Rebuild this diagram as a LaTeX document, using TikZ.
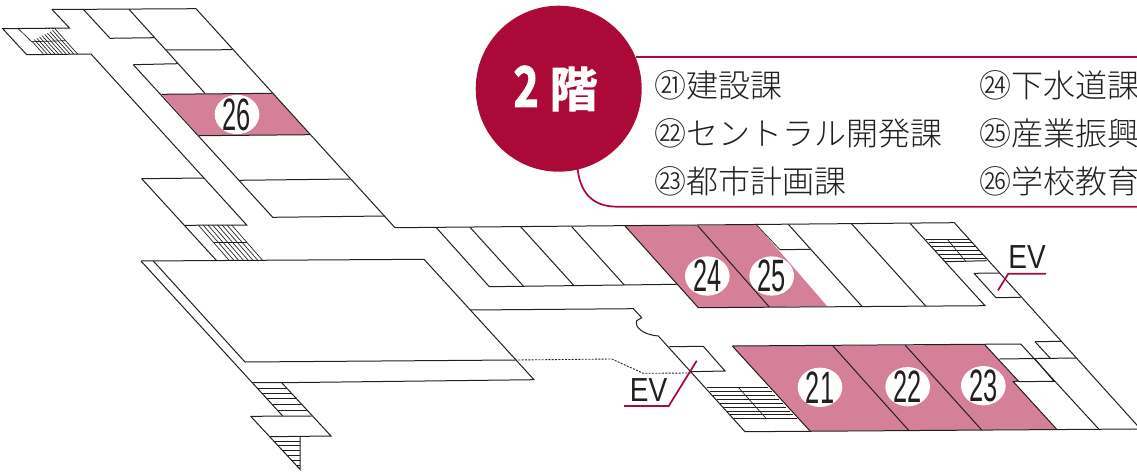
\documentclass[tikz,border=0pt]{standalone}
\usepackage{fontspec}
\newfontfamily\cjk{Noto Sans CJK JP Light}
\newfontfamily\heavy[FakeBold=2]{Noto Sans CJK JP Bold}
\newfontfamily\heavytwo[FakeBold=2,FakeStretch=0.76]{Noto Sans CJK JP Bold}
\newfontfamily\numfont[FakeStretch=0.56]{Liberation Sans}
\newfontfamily\evfont[FakeStretch=0.84]{Liberation Sans}
\definecolor{crim}{HTML}{AB0A38}
\definecolor{rosa}{HTML}{D38098}
\definecolor{ink}{HTML}{231F20}
\usetikzlibrary{shapes.geometric}
\tikzset{
  wall/.style={draw=ink,line width=0.75pt,line join=miter},
  thin/.style={draw=ink,line width=0.5pt},
  room/.style={fill=rosa,draw=none},
  redl/.style={draw=crim,line width=1.3pt},
  oval/.style={ellipse,fill=white,draw=none,minimum width=33.5pt,minimum height=29.5pt,inner sep=0pt},
  num/.style={inner sep=0pt,text=ink,font=\numfont\fontsize{34}{34}\selectfont},
  lbl/.style={anchor=west,inner sep=0pt,text=ink,font=\cjk\fontsize{24}{26}\selectfont},
  evl/.style={inner sep=0pt,text=ink,font=\evfont\fontsize{25}{25}\selectfont}
}
\begin{document}
\begin{tikzpicture}[x=0.75pt,y=-0.75pt]
\useasboundingbox (0,0) rectangle (1137,471);
\clip (0,0) rectangle (1137,471);
% pink rooms
\path[room] (161.7,94.3) -- (272.7,93.3) -- (310,134.7) -- (199,135.7) -- cycle;
\path[room] (625,226) -- (756.7,225) -- (827.3,306.3) -- (698.3,307.7) -- cycle;
\path[room] (732.3,346) -- (985,345) -- (1018.3,381) -- (1013.3,381.7) -- (1056.7,429.3) -- (810,431) -- cycle;
% number ovals under the walls
\node[oval] (o26) at (237,114.5) {};
\node[oval] (o24) at (707.3,276) {};
\node[oval] (o25) at (771.7,276) {};
\node[oval] (o21) at (820,387.3) {};
\node[oval] (o22) at (907.7,386.7) {};
\node[oval] (o23) at (983.3,385.7) {};
% top-left wing
\draw[wall] (52,9.5) -- (196,8.7) -- (395,227.7) -- (954.3,222.7) -- (1145,434);
\draw[wall] (52,9.5) -- (69.5,28) -- (2.7,28.7) -- (26.7,54.7) -- (91,54) -- (246.7,225) -- (185,225.3);
\draw[wall] (83.3,9.3) -- (110,38.3) -- (154,37.7);
\draw[wall] (129,9.3) -- (205,93.3);
\draw[wall] (165.7,50) -- (232.3,49.7);
\draw[wall] (133.3,64.7) -- (177.7,63.7);
\draw[wall] (133.3,64.7) -- (272.7,217.3) -- (385,216);
\draw[wall] (161.7,94.3) -- (272.7,93.3);
\draw[wall] (199,135.7) -- (310,134.7);
\draw[wall] (239.3,180.3) -- (350,179);
\draw[wall] (141.7,178.7) -- (204,178);
\draw[wall] (141.7,178.7) -- (216.7,260.7);
% stairs top-left
\draw[thin,dash pattern=on 1.5pt off 1pt] (18.3,28.7) -- (55,28.7);
\draw[thin] (18.3,28.7) -- (31.7,41.7) -- (65,40.7);
\foreach \a in {0,...,9}{\draw[thin] ({31.7+\a*2.6},{41-\a*1.33}) -- ({43.4+\a*3.8},54);}
% stairs mid-left
\foreach \a in {0,...,7}{\draw[thin] ({198.3+\a*4.77},225) -- ({229.3+\a*4.77},260.5);}
\draw[wall] (214,242.7) -- (246.7,242.7);
% big room
\draw[wall] (141,261) -- (424,259.3) -- (534,379.7) -- (281.7,382.7);
\draw[wall] (153.3,261) -- (245,362) -- (515,360);
\draw[wall] (141,261) -- (282.7,416);
\draw[wall] (252.7,382.7) -- (281.7,382.7) -- (331,436) -- (270,436.7);
\draw[wall] (250.7,416.3) -- (311.7,416);
\draw[wall] (250.7,416.3) -- (300,469.3) -- (300,436.7);
\foreach \y in {388,393,398,404,410}{\draw[thin] ({252.7+(\y-382.7)*0.9},\y) -- ({281.7+(\y-382.7)*0.925},\y);}
\foreach \y in {441,445,450,455,460,465}{\draw[thin] ({270+(\y-436.7)*0.92},\y) -- (300,\y);}
% corridor block
\draw[wall] (470,310) -- (633.3,308.7) -- (641.7,317.7) -- (636.7,320.7) .. controls (634,328) and (645,335) .. (658.3,336) -- (745,431.7) -- (1137,429);
\draw[wall] (669.3,346.7) -- (703.3,346.3) -- (725,371) -- (691,371.7);
\draw[draw=ink,line width=0.65pt,dash pattern=on 1.5pt off 1pt] (515,360) -- (611.7,359) -- (643.3,373.3) -- (691,373);
% upper rooms
\draw[wall] (436,227.3) -- (489.3,286.7) -- (676.7,284.3);
\draw[wall] (470,227.3) -- (523.3,286);
\draw[wall] (520.7,226.7) -- (574,285.7);
\draw[wall] (571.7,226.7) -- (624.3,285);
\draw[wall] (625,226) -- (698.3,307.7) -- (985,305.7) -- (910,223.3);
\draw[wall] (697.7,225.7) -- (769.3,307);
\draw[wall] (788.3,224.3) -- (862.3,306.7);
\draw[wall] (851.7,224) -- (925.7,306);
\draw[wall] (780,249.7) -- (810,249.3);
\draw[thin] (756.7,225) -- (780,249.7);
% stairs right top
\draw[thin] (947.3,239.3) -- (966,261.7);
\foreach \y in {239.3,242.5,246,250,254,258}{\draw[thin] ({925.7+(\y-239.3)*0.87},\y) -- ({970+(\y-239.3)*0.9},\y);}
\draw[wall] (945,261.7) -- (986.7,260.7);
\draw[wall] (974,273.3) -- (999.3,273);
\draw[wall] (974,273.3) -- (996,297.7) -- (1020.7,297.3);
% lower right
\draw[wall] (732.3,346) -- (1020.7,344) -- (1098.7,429);
\draw[wall] (832.7,345.7) -- (909,430.7);
\draw[wall] (905,345) -- (981.7,430);
\draw[wall] (985,345) -- (1018.3,381) -- (1013.3,381.7) -- (1056.7,429.3);
\draw[wall] (732.3,346) -- (810,431);
\draw[wall] (999.3,359) -- (1076,358);
\draw[wall] (1035,341.7) -- (1061.7,341.3);
\draw[wall] (1035,341.7) -- (1050,358);
\draw[wall] (1035,359) -- (1054,381.3) -- (1018,381.7);
% stairs lower
\draw[thin] (738.3,387.3) -- (766,418.3);
\foreach \y in {387.5,391,395,399,403,407,411,414.5,418.3}{\draw[thin] ({706.7+(\y-387.5)*0.865},\y) -- ({768.3+(\y-387.5)*0.92},\y);}
% red leaders and label panel
\draw[redl] (696.7,360.7) -- (668.7,406) -- (624,406);
\draw[redl] (998,290.3) -- (1008.3,273.7) -- (1046,273.7);
\draw[redl] (636,57) -- (1137,57);
\draw[redl] (577.3,165) .. controls (579,192) and (592,206.7) .. (617,206.7) -- (1137,206.7);
% circle
\node[circle,fill=crim,draw=none,minimum size=124.5pt,inner sep=0pt] (badge) at (558.7,88.7) {};
\node[text=white,inner sep=0pt,font=\heavy\fontsize{36}{36}\selectfont] (badgetext) at (555.5,88.5) {{\heavytwo\fontsize{42}{42}\selectfont 2} 階};
% labels
\node[lbl] (l21) at (654,85) {㉑建設課};
\node[lbl] (l22) at (654,133) {㉒セントラル開発課};
\node[lbl] (l23) at (654,181) {㉓都市計画課};
\node[lbl] (l24) at (979,85) {㉔下水道課};
\node[lbl] (l25) at (979,133) {㉕産業振興};
\node[lbl] (l26) at (979,181) {㉖学校教育};
% numbers
\node[num] (n26) at (o26) {26};
\node[num] (n24) at (o24) {24};
\node[num] (n25) at (o25) {25};
\node[num] (n21) at (o21) {21};
\node[num] (n22) at (o22) {22};
\node[num] (n23) at (o23) {23};
\node[evl] (ev1) at (648.5,390) {EV};
\node[evl] (ev2) at (1027,257) {EV};
\end{tikzpicture}
\end{document}
